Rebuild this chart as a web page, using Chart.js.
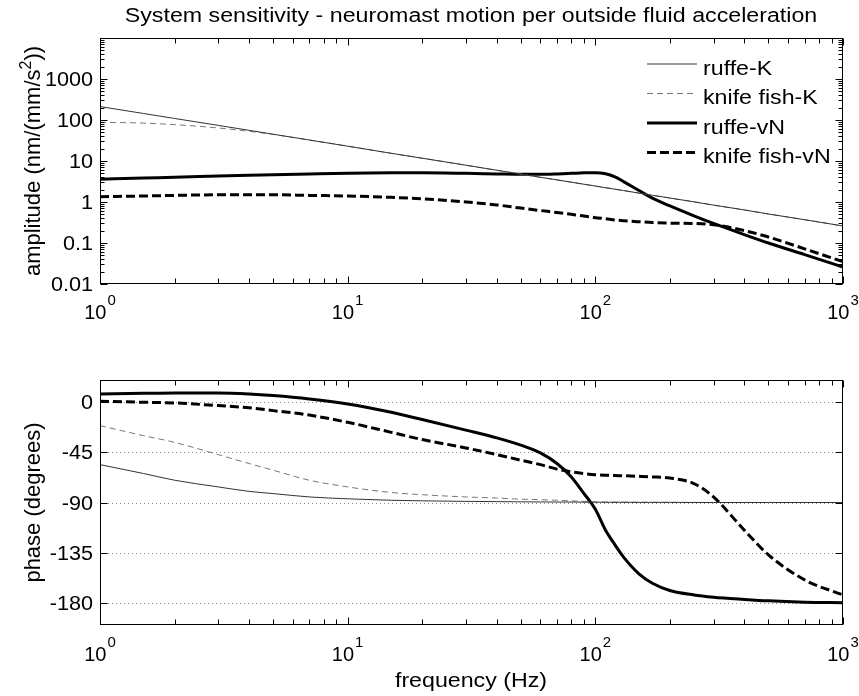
<!DOCTYPE html>
<html>
<head>
<meta charset="utf-8">
<title>System sensitivity</title>
<script src="https://cdn.jsdelivr.net/npm/chart.js@4.4.1/dist/chart.umd.min.js"></script>
<style>
  body { margin: 0; background: #fff; }
  canvas { display: block; position: absolute; left: 0; }
  #amp { top: 0; }
  #phase { top: 330px; }
</style>
</head>
<body>
<canvas id="amp" width="859" height="330"></canvas>
<canvas id="phase" width="859" height="366"></canvas>
<script>
// values
const freq = [1, 1.5, 2, 3, 4, 5, 7, 10, 15, 20, 30, 40, 50, 60, 70, 80, 90, 100, 110, 120, 130, 150, 170, 200, 250, 300, 400, 500, 700, 1000];

const ampRuffeK = [213, 144, 109, 74, 56, 45, 32.5, 23, 15.4, 11.7, 7.9, 5.95, 4.8, 4.0, 3.46, 3.04, 2.71, 2.45, 2.23, 2.05, 1.9, 1.65, 1.46, 1.25, 1.01, 0.84, 0.64, 0.51, 0.37, 0.26];
const ampKnifeK = [88, 84, 77, 64, 53, 44.5, 32.5, 23, 15.4, 11.7, 7.9, 5.95, 4.8, 4.0, 3.46, 3.04, 2.71, 2.45, 2.23, 2.05, 1.9, 1.65, 1.46, 1.25, 1.01, 0.84, 0.64, 0.51, 0.37, 0.26];
const ampRuffeVN = [3.6, 3.85, 4.0, 4.3, 4.5, 4.65, 4.85, 5.05, 5.15, 5.15, 5.0, 4.85, 4.75, 4.75, 4.85, 5.0, 5.15, 5.2, 4.9, 4.1, 3.15, 1.9, 1.24, 0.8, 0.46, 0.3, 0.16, 0.1, 0.052, 0.026];
const ampKnifeVN = [1.35, 1.4, 1.45, 1.5, 1.5, 1.5, 1.45, 1.4, 1.3, 1.2, 1.0, 0.85, 0.71, 0.62, 0.555, 0.5, 0.455, 0.415, 0.39, 0.365, 0.35, 0.33, 0.315, 0.305, 0.3, 0.28, 0.2, 0.14, 0.072, 0.035];

const phaseRuffeK = [-56, -64, -70, -76, -80, -82, -85, -86.7, -88, -88.5, -89, -89.2, -89.4, -89.5, -89.6, -89.6, -89.7, -89.7, -89.8, -89.8, -89.8, -89.9, -89.9, -89.9, -90, -90, -90, -90, -90, -90];
const phaseKnifeK = [-21, -30, -36, -47, -55, -61, -70, -76, -81, -83, -85, -86, -87, -87.5, -88, -88.5, -89, -89.5, -89.6, -89.7, -89.7, -89.8, -89.8, -89.9, -89.9, -90, -90, -90, -90, -90];
const phaseRuffeVN = [7.4, 8, 8.3, 8.3, 7.4, 6, 3, -1.5, -9, -15.5, -25, -32, -38.5, -45.5, -55, -67, -82, -96, -115, -128, -139, -154, -162.5, -169, -173, -175, -177, -178.3, -179.5, -180];
const phaseKnifeVN = [1, 0, -0.6, -3, -5, -7.5, -11.5, -18, -27, -33.5, -41, -47, -52, -56, -60, -62.5, -64, -65, -65.5, -65.8, -66, -66.5, -67, -68, -73, -85, -115, -137, -159.5, -173];

const seriesNames = ['ruffe-K', 'knife fish-K', 'ruffe-vN', 'knife fish-vN'];
const ampTicks = [0.01, 0.1, 1, 10, 100, 1000];
const ampTickLabels = ['0.01', '0.1', '1', '10', '100', '1000'];
const phaseTicks = [-180, -135, -90, -45, 0];
const freqExponents = [0, 1, 2, 3];

const titleText = 'System sensitivity - neuromast motion per outside fluid acceleration';

const FONT = '"Liberation Sans", Arial, Helvetica, sans-serif';
const SX = 1.16; // the picture is a bit wider than tall

const lineStyles = [
  { borderColor: '#333', borderWidth: 1, borderDash: [] },
  { borderColor: '#777', borderWidth: 1, borderDash: [6, 4] },
  { borderColor: '#000', borderWidth: 3, borderDash: [] },
  { borderColor: '#000', borderWidth: 3, borderDash: [9, 4] }
];

function makeDatasets(series) {
  return series.map((vals, i) => ({
    label: seriesNames[i],
    data: freq.map((f, j) => ({ x: f, y: vals[j] })),
    ...lineStyles[i],
    pointRadius: 0,
    fill: false,
    cubicInterpolationMode: 'monotone'
  }));
}

function text(ctx, str, x, y, size, align, sx) {
  ctx.save();
  ctx.font = size + 'px ' + FONT;
  const w = ctx.measureText(str).width * sx;
  let left = x;
  if (align === 'center') left = x - w / 2;
  if (align === 'right') left = x - w;
  ctx.translate(left, y);
  ctx.scale(sx, 1);
  ctx.fillStyle = '#000';
  ctx.textAlign = 'left';
  ctx.textBaseline = 'alphabetic';
  ctx.fillText(str, 0, 0);
  ctx.restore();
  return w;
}

function powLabel(ctx, exp, x, y) {
  ctx.font = '20px ' + FONT;
  const w1 = ctx.measureText('10').width;
  ctx.font = '15px ' + FONT;
  const w2 = ctx.measureText(String(exp)).width;
  const left = x - (w1 + 1 + w2) / 2;
  text(ctx, '10', left, y, 20, 'left', 1);
  text(ctx, String(exp), left + w1 + 1, y - 14, 15, 'left', 1);
}

// rotated y label, parts = [[str, size, raise], ...]
function rotatedLabel(ctx, parts, x, yCenter) {
  ctx.save();
  let total = 0;
  parts.forEach(p => { ctx.font = p[1] + 'px ' + FONT; total += ctx.measureText(p[0]).width; });
  ctx.translate(x, yCenter);
  ctx.rotate(-Math.PI / 2);
  ctx.fillStyle = '#000';
  ctx.textBaseline = 'alphabetic';
  let cx = -total / 2;
  parts.forEach(p => {
    ctx.font = p[1] + 'px ' + FONT;
    ctx.fillText(p[0], cx, -p[2]);
    cx += ctx.measureText(p[0]).width;
  });
  ctx.restore();
}

function logMinors(from, to) {
  const out = [];
  for (let d = from; d < to; d++) {
    for (let k = 2; k <= 9; k++) out.push(k * Math.pow(10, d));
  }
  return out;
}

const matlabAxes = {
  id: 'matlab',
  beforeDatasetsDraw(chart, args, opts) {
    if (!opts.grid) return;
    const { ctx, chartArea: a, scales: { y } } = chart;
    ctx.save();
    ctx.strokeStyle = '#888';
    ctx.lineWidth = 1;
    ctx.setLineDash([1, 3]);
    opts.yMajor.forEach(v => {
      const py = Math.round(y.getPixelForValue(v)) + 0.5;
      ctx.beginPath();
      ctx.moveTo(a.left, py);
      ctx.lineTo(a.right, py);
      ctx.stroke();
    });
    ctx.restore();
  },
  afterDraw(chart, args, opts) {
    const { ctx, chartArea: a, scales: { x, y } } = chart;
    const L = a.left + 0.5, R = a.right - 0.5, T = a.top + 0.5, B = a.bottom - 0.5;
    ctx.save();
    ctx.strokeStyle = '#000';
    ctx.lineWidth = 1;
    ctx.setLineDash([]);
    ctx.strokeRect(L, T, R - L, B - T);

    ctx.beginPath();
    const xTick = (v, len) => {
      const px = Math.round(x.getPixelForValue(v)) + 0.5;
      ctx.moveTo(px, B); ctx.lineTo(px, B - len);
      ctx.moveTo(px, T); ctx.lineTo(px, T + len);
    };
    const yTick = (v, len) => {
      const py = Math.round(y.getPixelForValue(v)) + 0.5;
      ctx.moveTo(L, py); ctx.lineTo(L + len, py);
      ctx.moveTo(R, py); ctx.lineTo(R - len, py);
    };
    freqExponents.forEach(e => xTick(Math.pow(10, e), 7));
    logMinors(0, 3).forEach(v => xTick(v, 5));
    opts.yMajor.forEach(v => yTick(v, 7));
    (opts.yMinor || []).forEach(v => yTick(v, 4));
    ctx.stroke();
    ctx.restore();

    // tick labels
    opts.yLabels.forEach((lab, i) => {
      const py = y.getPixelForValue(opts.yLabelValues[i]);
      text(ctx, lab, a.left - 7, py + 7, 20, 'right', 1.08);
    });
    freqExponents.forEach(e => powLabel(ctx, e, x.getPixelForValue(Math.pow(10, e)), opts.xLabelY));

    rotatedLabel(ctx, opts.yTitle, 40, (a.top + a.bottom) / 2);

    if (opts.xTitle) text(ctx, opts.xTitle, 471, opts.xTitleY, 20, 'center', SX);
    if (opts.title) text(ctx, opts.title, 471, 21.5, 20, 'center', SX);

    if (opts.legend) {
      chart.data.datasets.forEach((ds, i) => {
        const ly = 64 + i * 29.5;
        ctx.save();
        ctx.strokeStyle = ds.borderColor;
        ctx.lineWidth = ds.borderWidth;
        ctx.setLineDash(ds.borderDash);
        ctx.beginPath();
        ctx.moveTo(647, ly);
        ctx.lineTo(697, ly);
        ctx.stroke();
        ctx.restore();
        text(ctx, ds.label, 703, ly + 10.5, 20, 'left', SX);
      });
    }
  }
};

const hiddenScale = {
  ticks: { display: false },
  grid: { display: false },
  border: { display: false }
};

new Chart(document.getElementById('amp'), {
  type: 'line',
  data: { datasets: makeDatasets([ampRuffeK, ampKnifeK, ampRuffeVN, ampKnifeVN]) },
  options: {
    responsive: false,
    animation: false,
    events: [],
    layout: { padding: { top: 38, right: 16, left: 0, bottom: 0 } },
    plugins: {
      legend: { display: false },
      tooltip: { enabled: false },
      matlab: {
        title: titleText,
        legend: true,
        yMajor: [0.01, 0.1, 1, 10, 100, 1000, 10000],
        yMinor: logMinors(-2, 4),
        yLabels: ampTickLabels,
        yLabelValues: ampTicks,
        xLabelY: 319,
        yTitle: [['amplitude (nm/(mm/s', 22, 0], ['2', 16, 9], ['))', 22, 0]]
      }
    },
    scales: {
      x: { type: 'logarithmic', min: 1, max: 1000, ...hiddenScale, afterFit: s => { s.height = 46; } },
      y: { type: 'logarithmic', min: 0.01, max: 10000, ...hiddenScale, afterFit: s => { s.width = 100; } }
    }
  },
  plugins: [matlabAxes]
});

new Chart(document.getElementById('phase'), {
  type: 'line',
  data: { datasets: makeDatasets([phaseRuffeK, phaseKnifeK, phaseRuffeVN, phaseKnifeVN]) },
  options: {
    responsive: false,
    animation: false,
    events: [],
    layout: { padding: { top: 50, right: 16, left: 0, bottom: 0 } },
    plugins: {
      legend: { display: false },
      tooltip: { enabled: false },
      matlab: {
        grid: true,
        yMajor: phaseTicks,
        yLabels: phaseTicks.map(String),
        yLabelValues: phaseTicks,
        xLabelY: 331,
        xTitle: 'frequency (Hz)',
        xTitleY: 357,
        yTitle: [['phase (degrees)', 22, 0]]
      }
    },
    scales: {
      x: { type: 'logarithmic', min: 1, max: 1000, ...hiddenScale, afterFit: s => { s.height = 71; } },
      y: { type: 'linear', min: -200, max: 20, ...hiddenScale, afterFit: s => { s.width = 100; } }
    }
  },
  plugins: [matlabAxes]
});
</script>
</body>
</html>
